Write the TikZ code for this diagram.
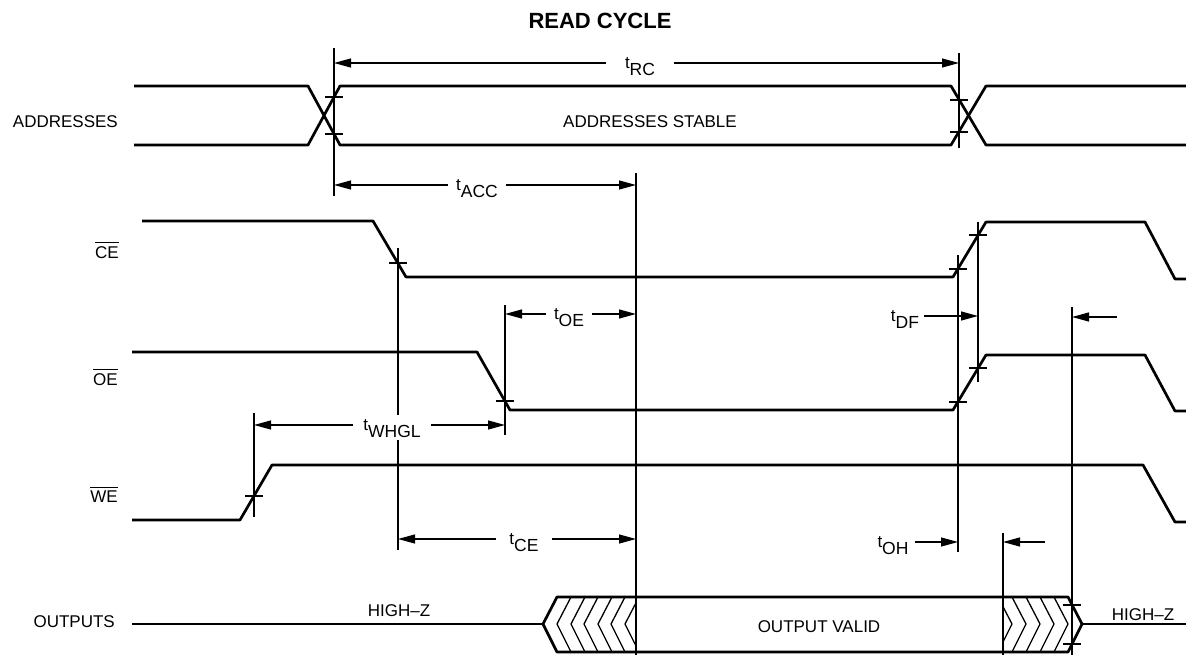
\documentclass[tikz,border=0pt]{standalone}
\usepackage{fontspec}
\setmainfont{Liberation Sans}
\usetikzlibrary{arrows.meta}
\newcommand{\tsub}[1]{{\fontsize{17}{17}\selectfont t}\raisebox{-7pt}[0pt][0pt]{\fontsize{17.5}{17.5}\selectfont #1}}
\begin{document}
\begin{tikzpicture}[x=1pt,y=-1pt,
  sig/.style={line width=2.7pt,line join=round},
  thinline/.style={line width=1.2pt},
  dimarrow/.style={line width=1.2pt,-{Triangle[length=17pt,width=9pt]}},
  sigl/.style={inner sep=0pt,font=\fontsize{17}{17}\selectfont},
  tlab/.style={inner ysep=0pt,inner xsep=#1},
  tlab/.default=8pt,
  tickm/.style={line width=1.1pt},
  hatchl/.style={line width=1.3pt}]
\useasboundingbox (0,0) rectangle (1186,655);

% title
\node[inner sep=0pt,font=\bfseries\fontsize{22}{22}\selectfont] (title) at (600,21) {READ CYCLE};

% signal names
\node[sigl,anchor=east] (addr) at (118,122) {ADDRESSES};
\node[sigl,anchor=east] (ce) at (119,253) {CE};
\node[sigl,anchor=east] (oe) at (118,380) {OE};
\node[sigl,anchor=east] (we) at (118,497) {WE};
\node[sigl,anchor=east] (outs) at (115,622) {OUTPUTS};
\foreach \n in {ce,oe,we}
  \draw[line width=0.9pt] ([yshift=4pt]\n.north west) -- ([yshift=4pt]\n.north east);

% marker coordinates (vertical reference lines)
\coordinate (vA) at (334,48);
\coordinate (vB) at (959,53);
\coordinate (vACC) at (636,173);
\coordinate (vCE) at (398,248);
\coordinate (vOE) at (505,305);
\coordinate (vWE) at (254,413);
\coordinate (vDF) at (958,255);
\coordinate (vDFb) at (978,222);
\coordinate (vOH) at (1003,533);
\coordinate (vHZ) at (1072,307);

% vertical lines
\draw[thinline] (vA) -- (334,196);
\draw[thinline] (vB) -- (959,148);
\draw[thinline] (vACC) -- (636,655);
\draw[thinline] (vCE) -- (398,415);
\draw[thinline] (398,440) -- (398,550);
\draw[thinline] (vOE) -- (505,435);
\draw[thinline] (vWE) -- (254,517);
\draw[thinline] (vDF) -- (958,552);
\draw[thinline] (vDFb) -- (978,382);
\draw[thinline] (vOH) -- (1003,655);
\draw[thinline] (vHZ) -- (1072,655);

% ADDRESSES
\draw[sig] (134,86) -- (308,86) -- (340,145) -- (951,145) -- (986,86) -- (1186,86);
\draw[sig] (134,145) -- (308,145) -- (340,86) -- (951,86) -- (986,145) -- (1186,145);
\node[sigl] (stable) at (650,122) {ADDRESSES STABLE};

% CE
\draw[sig] (142,221) -- (373,221) -- (406,277) -- (953,277) -- (986,222) -- (1145,222) -- (1175,279) -- (1186,279);
% OE
\draw[sig] (132,352) -- (477,352) -- (510,410) -- (953,410) -- (986,355) -- (1145,355) -- (1175,411) -- (1186,411);
% WE
\draw[sig] (132,520) -- (240,520) -- (272,465) -- (1143,465) -- (1175,522) -- (1186,522);

% OUTPUTS
\begin{scope}
  \clip (636,597) -- (557,597) -- (543,624) -- (557,652) -- (636,652) -- cycle;
  \foreach \x in {557,571,584,598,611,625}
    \draw[hatchl] (\x+14,597) -- (\x,624) -- (\x+14,652);
\end{scope}
\begin{scope}
  \clip (1003,597) -- (1068,597) -- (1082,624) -- (1068,652) -- (1003,652) -- cycle;
  \foreach \x in {1012,1026,1040,1054,1068}
    \draw[hatchl] (\x-14,597) -- (\x,624) -- (\x-14,652);
\end{scope}
\draw[sig] (132,624) -- (543,624);
\draw[sig] (557,597) -- (1068,597) -- (1082,624) -- (1068,652) -- (557,652) -- (543,624) -- cycle;
\draw[sig] (1082,624) -- (1186,624);
\node[sigl] (hz1) at (399,611) {HIGH–Z};
\node[sigl] (valid) at (819,627) {OUTPUT VALID};
\node[sigl] (hz2) at (1143,615) {HIGH–Z};

% ticks
\foreach \p/\q in {334/97,334/134,959/100,959/132,398/263,505/401,254/496,958/269,978/235,958/402,978/368,1072/605,1072/644}
  \draw[tickm] (\p-9,\q) -- (\p+9,\q);

% timing labels and arrows
\node[tlab=19pt] (trc) at (640,63) {\tsub{RC}};
\draw[dimarrow] (trc.west) -- (trc.west -| vA);
\draw[dimarrow] (trc.east) -- (trc.east -| vB);

\node[tlab=8pt] (tacc) at (477,185) {\tsub{ACC}};
\draw[dimarrow] (tacc.west) -- (tacc.west -| vA);
\draw[dimarrow] (tacc.east) -- (tacc.east -| vACC);

\node[tlab=8pt] (toe) at (569,314) {\tsub{OE}};
\draw[dimarrow] (toe.west) -- (toe.west -| vOE);
\draw[dimarrow] (toe.east) -- (toe.east -| vACC);

\node[tlab=5pt] (tdf) at (905,316) {\tsub{DF}};
\draw[dimarrow] (tdf.east) -- (tdf.east -| vDFb);

\node[tlab=10pt] (twhgl) at (392,425) {\tsub{WHGL}};
\draw[dimarrow] (twhgl.west) -- (twhgl.west -| vWE);
\draw[dimarrow] (twhgl.east) -- (twhgl.east -| vOE);

\node[tlab=13pt] (tce) at (524,539) {\tsub{CE}};
\draw[dimarrow] (tce.west) -- (tce.west -| vCE);
\draw[dimarrow] (tce.east) -- (tce.east -| vACC);

\node[tlab=6pt] (toh) at (893,542) {\tsub{OH}};
\draw[dimarrow] (toh.east) -- (toh.east -| vDF);

\coordinate (ohtail) at (1045,542);
\draw[dimarrow] (ohtail) -- (ohtail -| vOH);
\coordinate (hztail) at (1117,317);
\draw[dimarrow] (hztail) -- (hztail -| vHZ);
\end{tikzpicture}
\end{document}
